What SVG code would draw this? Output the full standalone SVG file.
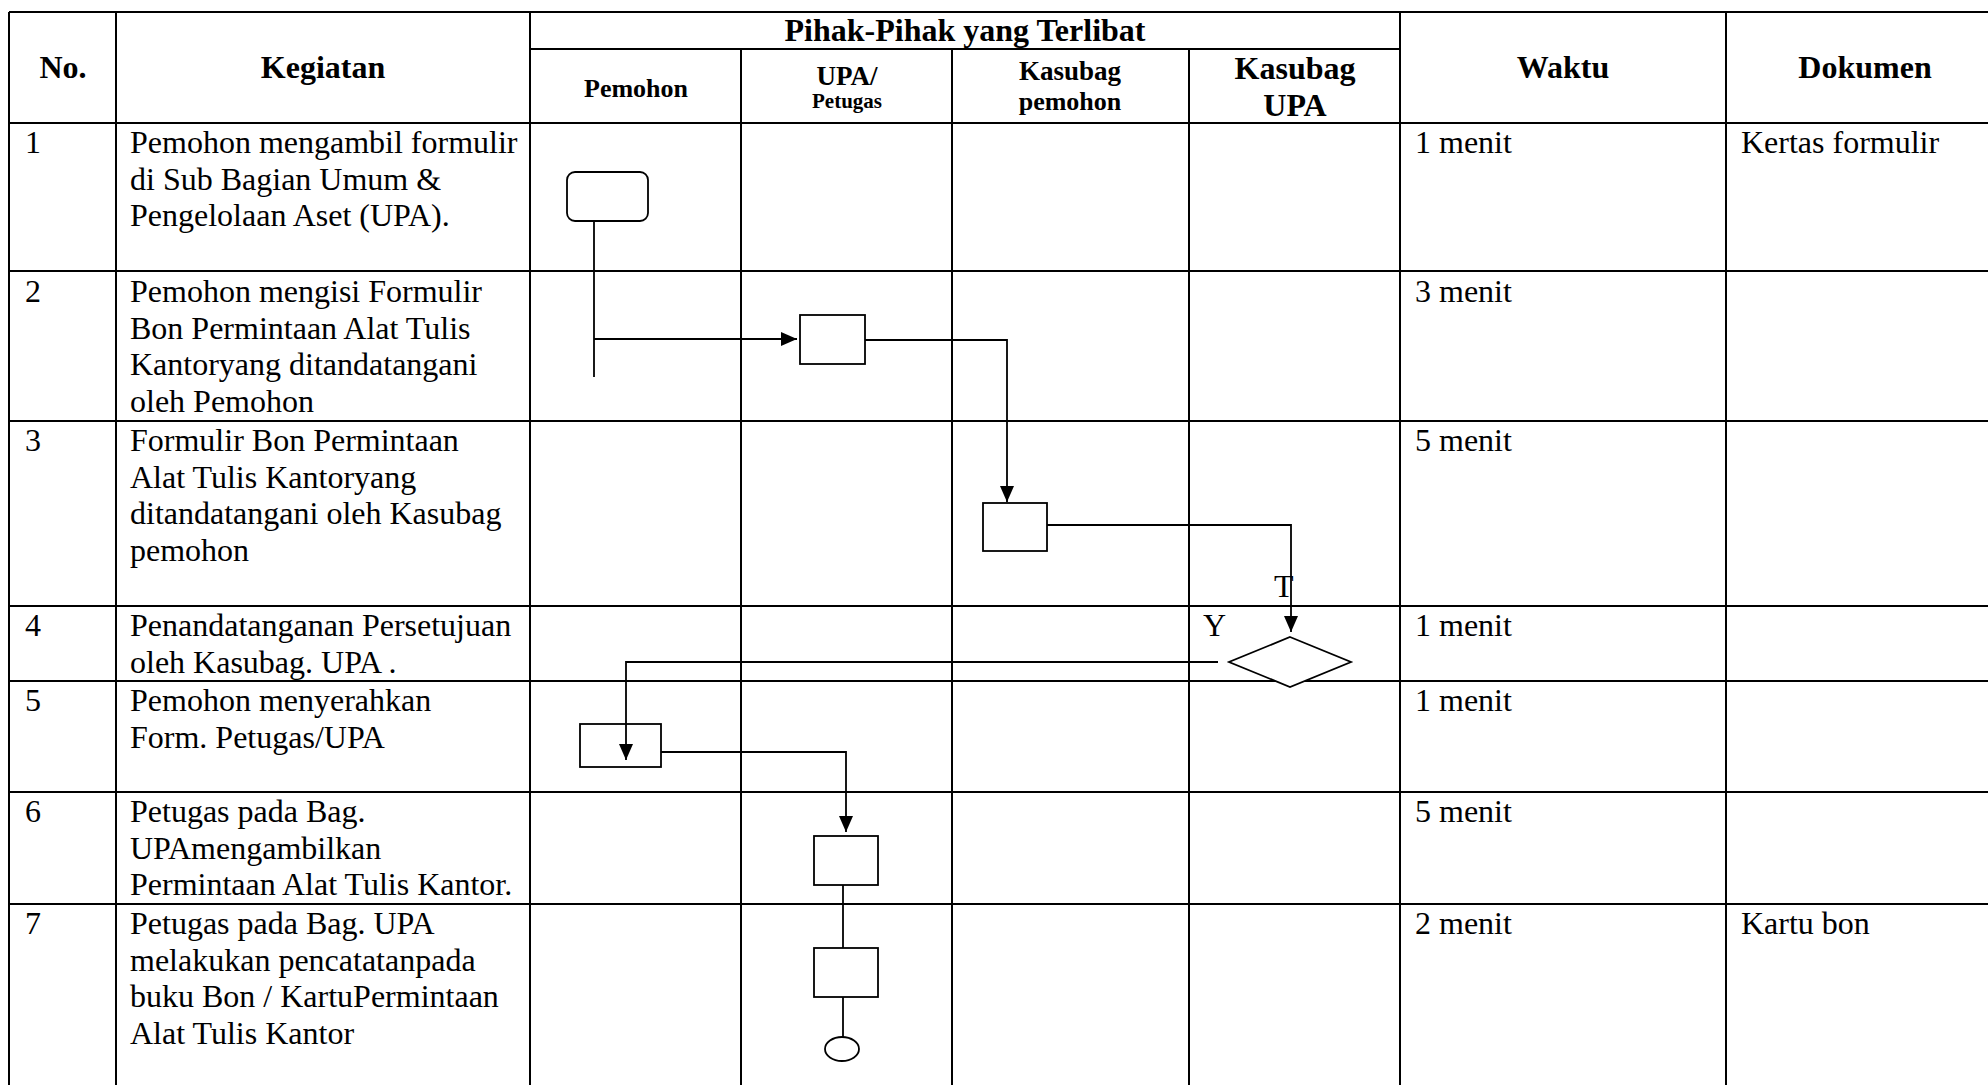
<svg xmlns="http://www.w3.org/2000/svg" width="1988" height="1085" viewBox="0 0 1988 1085">
<defs>
<style>
.grid{stroke:#000;stroke-width:2;fill:none}
.shape{stroke:#000;stroke-width:1.8;fill:#fff}
.conn{stroke:#000;stroke-width:1.8;fill:none}
.h{font-family:"Liberation Serif","Times New Roman",serif;font-weight:bold;fill:#000}
.t{font-family:"Liberation Serif","Times New Roman",serif;font-size:32px;fill:#000}
</style>
<marker id="arr" markerWidth="16" markerHeight="14" refX="16" refY="7" orient="auto" markerUnits="userSpaceOnUse">
<path d="M0,0 L16,7 L0,14 Z" fill="#000"/>
</marker>
</defs>
<rect width="1988" height="1085" fill="#fff"/>
<g id="table" class="grid">
<line x1="9" y1="12" x2="1988" y2="12"/>
<line x1="530" y1="49" x2="1400" y2="49"/>
<line x1="9" y1="123" x2="1988" y2="123"/>
<line x1="9" y1="271" x2="1988" y2="271"/>
<line x1="9" y1="421" x2="1988" y2="421"/>
<line x1="9" y1="606" x2="1988" y2="606"/>
<line x1="9" y1="681" x2="1988" y2="681"/>
<line x1="9" y1="792" x2="1988" y2="792"/>
<line x1="9" y1="904" x2="1988" y2="904"/>
<line x1="9" y1="12" x2="9" y2="1085"/>
<line x1="116" y1="12" x2="116" y2="1085"/>
<line x1="530" y1="12" x2="530" y2="1085"/>
<line x1="741" y1="49" x2="741" y2="1085"/>
<line x1="952" y1="49" x2="952" y2="1085"/>
<line x1="1189" y1="49" x2="1189" y2="1085"/>
<line x1="1400" y1="12" x2="1400" y2="1085"/>
<line x1="1726" y1="12" x2="1726" y2="1085"/>
</g>
<g id="headers">
<text class="h" x="63" y="78" font-size="32" text-anchor="middle">No.</text>
<text class="h" x="323" y="78" font-size="32" text-anchor="middle">Kegiatan</text>
<text class="h" x="965" y="41" font-size="32" text-anchor="middle">Pihak-Pihak yang Terlibat</text>
<text class="h" x="636" y="97" font-size="26" text-anchor="middle">Pemohon</text>
<text class="h" x="847" y="85" font-size="27" text-anchor="middle">UPA/</text>
<text class="h" x="847" y="108" font-size="21" text-anchor="middle">Petugas</text>
<text class="h" x="1070" y="80" font-size="27" text-anchor="middle">Kasubag</text>
<text class="h" x="1070" y="110" font-size="26" text-anchor="middle">pemohon</text>
<text class="h" x="1295" y="79" font-size="32" text-anchor="middle">Kasubag</text>
<text class="h" x="1295" y="116" font-size="32" text-anchor="middle">UPA</text>
<text class="h" x="1563" y="78" font-size="32" text-anchor="middle">Waktu</text>
<text class="h" x="1865" y="78" font-size="32" text-anchor="middle">Dokumen</text>
</g>
<g id="rows" class="t">
<text x="25" y="153">1</text>
<text x="130" y="153">Pemohon mengambil formulir</text>
<text x="130" y="190">di Sub Bagian Umum &amp;</text>
<text x="130" y="226">Pengelolaan Aset (UPA).</text>
<text x="1415" y="153">1 menit</text>
<text x="1741" y="153">Kertas formulir</text>

<text x="25" y="302">2</text>
<text x="130" y="302">Pemohon mengisi Formulir</text>
<text x="130" y="339">Bon Permintaan Alat Tulis</text>
<text x="130" y="375">Kantoryang ditandatangani</text>
<text x="130" y="412">oleh Pemohon</text>
<text x="1415" y="302">3 menit</text>

<text x="25" y="451">3</text>
<text x="130" y="451">Formulir Bon Permintaan</text>
<text x="130" y="488">Alat Tulis Kantoryang</text>
<text x="130" y="524">ditandatangani oleh Kasubag</text>
<text x="130" y="561">pemohon</text>
<text x="1415" y="451">5 menit</text>

<text x="25" y="636">4</text>
<text x="130" y="636">Penandatanganan Persetujuan</text>
<text x="130" y="673">oleh Kasubag. UPA .</text>
<text x="1415" y="636">1 menit</text>

<text x="25" y="711">5</text>
<text x="130" y="711">Pemohon menyerahkan</text>
<text x="130" y="748">Form. Petugas/UPA</text>
<text x="1415" y="711">1 menit</text>

<text x="25" y="822">6</text>
<text x="130" y="822">Petugas pada Bag.</text>
<text x="130" y="859">UPAmengambilkan</text>
<text x="130" y="895">Permintaan Alat Tulis Kantor.</text>
<text x="1415" y="822">5 menit</text>

<text x="25" y="934">7</text>
<text x="130" y="934">Petugas pada Bag. UPA</text>
<text x="130" y="971">melakukan pencatatanpada</text>
<text x="130" y="1007">buku Bon / KartuPermintaan</text>
<text x="130" y="1044">Alat Tulis Kantor</text>
<text x="1415" y="934">2 menit</text>
<text x="1741" y="934">Kartu bon</text>
</g>
<g id="connectors" class="conn">
<line x1="594" y1="221" x2="594" y2="377"/>
<line x1="594" y1="339" x2="797" y2="339" marker-end="url(#arr)"/>
<polyline points="865,340 1007,340 1007,502" marker-end="url(#arr)"/>
<polyline points="1047,525 1291,525 1291,632" marker-end="url(#arr)"/>
<polyline points="1218,662 626,662 626,760" marker-end="url(#arr)"/>
<polyline points="661,752 846,752 846,832" marker-end="url(#arr)"/>
<line x1="843" y1="885" x2="843" y2="948"/>
<line x1="843" y1="997" x2="843" y2="1037"/>
</g>
<g id="node1"><rect class="shape" x="567" y="172" width="81" height="49" rx="8"/></g>
<g id="node2"><rect class="shape" x="800" y="315" width="65" height="49"/></g>
<g id="node3"><rect class="shape" x="983" y="503" width="64" height="48"/></g>
<g id="node4"><polygon class="shape" points="1290,637 1351,662 1290,687 1229,662"/></g>
<g id="node5"><rect class="shape" x="580" y="724" width="81" height="43" fill="none" style="fill:none"/></g>
<g id="node6"><rect class="shape" x="814" y="836" width="64" height="49"/></g>
<g id="node7"><rect class="shape" x="814" y="948" width="64" height="49"/></g>
<g id="node8"><ellipse class="shape" cx="842" cy="1049" rx="17" ry="12"/></g>
<g id="labels" class="t">
<text x="1274" y="597">T</text>
<text x="1203" y="636">Y</text>
</g>
</svg>
